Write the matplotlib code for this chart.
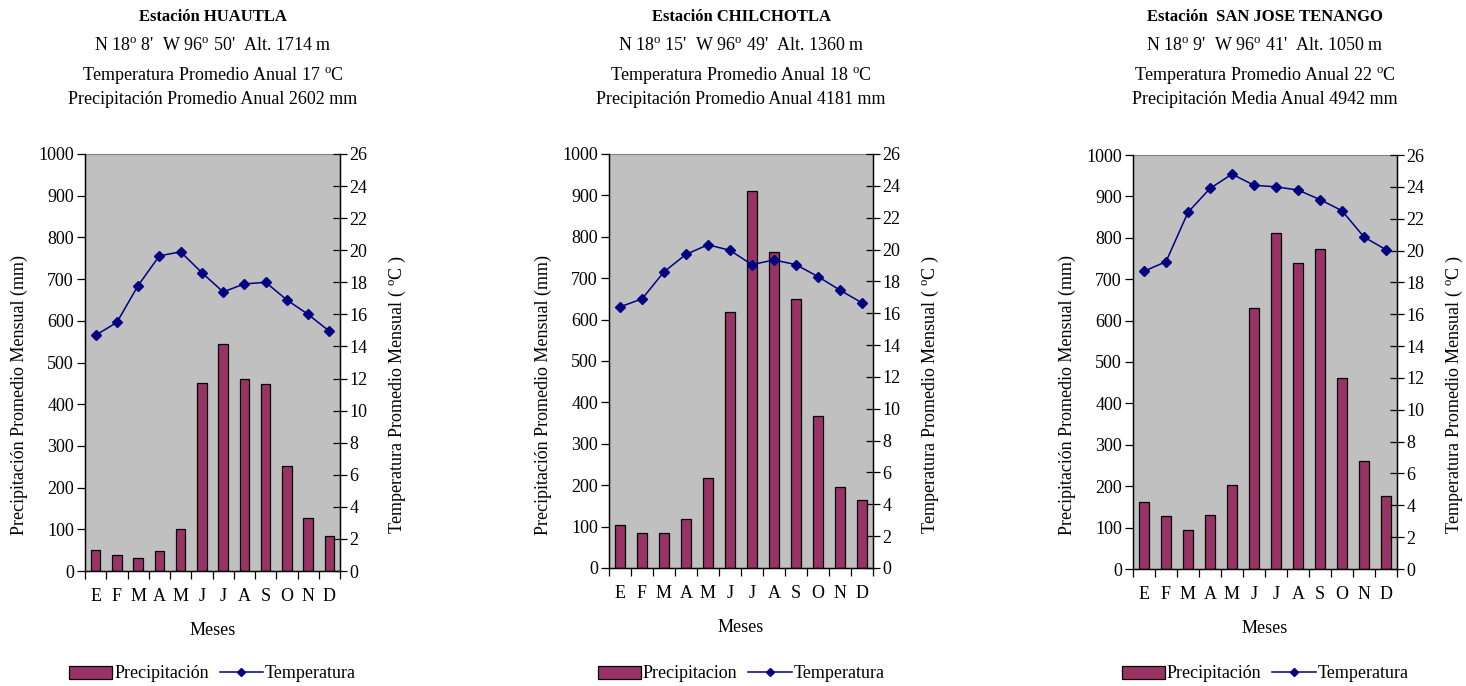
import matplotlib
matplotlib.use("Agg")
import matplotlib.pyplot as plt
import numpy as np
from matplotlib.lines import Line2D
from matplotlib.patches import Patch

plt.rcParams["font.family"] = ["Liberation Serif", "DejaVu Serif"]
plt.rcParams["mathtext.fontset"] = "custom"
plt.rcParams["mathtext.rm"] = "Liberation Serif"
plt.rcParams["mathtext.it"] = "Liberation Serif:italic"

MESES = ["E", "F", "M", "A", "M", "J", "J", "A", "S", "O", "N", "D"]

# precipitación mensual (mm) y temperatura media mensual (°C) por estación
huautla_precip = [51, 38, 31, 47, 101, 452, 545, 461, 448, 251, 128, 85]
huautla_temp = [14.7, 15.5, 17.8, 19.65, 19.9, 18.6, 17.4, 17.9, 18.0, 16.9, 16.0, 14.95]

chilchotla_precip = [105, 84, 84, 118, 218, 619, 911, 763, 649, 366, 195, 165]
chilchotla_temp = [16.4, 16.9, 18.6, 19.7, 20.3, 19.95, 19.05, 19.35, 19.05, 18.3, 17.45, 16.65]

tenango_precip = [161, 127, 93, 130, 204, 630, 811, 738, 772, 462, 261, 177]
tenango_temp = [18.7, 19.3, 22.4, 23.9, 24.8, 24.1, 24.0, 23.8, 23.2, 22.5, 20.85, 20.05]

ESTACIONES = [
    {
        "nombre": "Estación HUAUTLA",
        "coords": r"N 18$^{\mathrm{o}}$ 8'  W 96$^{\mathrm{o}}$ 50'  Alt. 1714 m",
        "temp_anual": r"Temperatura Promedio Anual 17 $^{\mathrm{o}}$C",
        "precip_anual": "Precipitación Promedio Anual 2602 mm",
        "etiqueta_precip": "Precipitación",
        "precip": huautla_precip,
        "temp": huautla_temp,
        "rect": (85, 154, 340, 571),
    },
    {
        "nombre": "Estación CHILCHOTLA",
        "coords": r"N 18$^{\mathrm{o}}$ 15'  W 96$^{\mathrm{o}}$ 49'  Alt. 1360 m",
        "temp_anual": r"Temperatura Promedio Anual 18 $^{\mathrm{o}}$C",
        "precip_anual": "Precipitación Promedio Anual 4181 mm",
        "etiqueta_precip": "Precipitacion",
        "precip": chilchotla_precip,
        "temp": chilchotla_temp,
        "rect": (609, 154, 873, 568),
    },
    {
        "nombre": "Estación  SAN JOSE TENANGO",
        "coords": r"N 18$^{\mathrm{o}}$ 9'  W 96$^{\mathrm{o}}$ 41'  Alt. 1050 m",
        "temp_anual": r"Temperatura Promedio Anual 22 $^{\mathrm{o}}$C",
        "precip_anual": "Precipitación Media Anual 4942 mm",
        "etiqueta_precip": "Precipitación",
        "precip": tenango_precip,
        "temp": tenango_temp,
        "rect": (1133, 155, 1397, 569),
    },
]

W, H = 1466, 686
BAR_COLOR = "#993366"
LINE_COLOR = "#000080"
FS = 13

fig = plt.figure(figsize=(W / 100, H / 100), dpi=100)
fig.patch.set_facecolor("white")


def fy(py):
    return 1 - py / H


for est in ESTACIONES:
    x0, y0, x1, y1 = est["rect"]
    ancho = x1 - x0
    alto = y1 - y0
    ax = fig.add_axes([x0 / W, fy(y1), ancho / W, alto / H])
    ax.set_facecolor("#C0C0C0")
    x = np.arange(12)
    ax.bar(x, est["precip"], width=0.45, color=BAR_COLOR, edgecolor="black",
           linewidth=0.9, zorder=2)
    ax.set_xlim(-0.5, 11.5)
    ax.set_ylim(0, 1000)
    ax.set_yticks(np.arange(0, 1001, 100))
    ax.tick_params(axis="y", direction="out", length=6, width=0.9,
                   labelsize=FS, pad=2)
    ax.set_xticks(np.arange(-0.5, 12, 1))
    ax.set_xticklabels([])
    ax.tick_params(axis="x", direction="out", length=6, width=0.9)
    ax.set_xticks(x, minor=True)
    ax.set_xticklabels(MESES, minor=True, fontsize=FS)
    ax.tick_params(axis="x", which="minor", length=0, pad=12.5)
    ax.set_ylabel("Precipitación Promedio Mensual (mm)", fontsize=FS)
    ax.set_xlabel("Meses", fontsize=FS, labelpad=12)
    for side in ("left", "bottom"):
        ax.spines[side].set_color("black")
        ax.spines[side].set_linewidth(1.0)
    ax.spines["top"].set_color("#808080")
    ax.spines["top"].set_linewidth(0.8)

    ax2 = ax.twinx()
    ax2.plot(x, est["temp"], color=LINE_COLOR, marker="D", markersize=5,
             linewidth=1.1, zorder=3)
    ax2.set_ylim(0, 26)
    ax2.set_yticks(np.arange(0, 27, 2))
    ax2.tick_params(axis="y", direction="inout", length=10, width=0.9,
                    labelsize=FS, pad=2)
    ax2.spines["right"].set_color("black")
    ax2.spines["right"].set_linewidth(1.0)
    ax2.spines["top"].set_visible(False)
    ax2.set_ylabel(r"Temperatura Promedio Mensual ( $^{\mathrm{o}}$C )",
                   fontsize=FS)

    # títulos de eje algo por debajo del centro del área de trazado
    yc = (y1 - 395) / alto
    ax.yaxis.set_label_coords(-57 / ancho, yc)
    ax2.yaxis.set_label_coords(1 + 47 / ancho, yc)

    cx = (x0 + x1) / 2 / W
    fig.text(cx, fy(17), est["nombre"], ha="center", va="center",
             fontsize=12, fontweight="bold")
    fig.text(cx, fy(45), est["coords"], ha="center", va="center", fontsize=FS)
    fig.text(cx, fy(76), est["temp_anual"], ha="center", va="center", fontsize=FS)
    fig.text(cx, fy(100), est["precip_anual"], ha="center", va="center", fontsize=FS)

    handles = [
        Patch(facecolor=BAR_COLOR, edgecolor="black", linewidth=0.9),
        Line2D([0], [0], color=LINE_COLOR, marker="D", markersize=4, linewidth=1.1),
    ]
    fig.legend(handles, [est["etiqueta_precip"], "Temperatura"],
               loc="center", bbox_to_anchor=(cx, fy(674)), ncol=2,
               frameon=False, fontsize=FS, handlelength=2.4,
               handletextpad=0.1, columnspacing=0.6)

fig.savefig("out.png", dpi=100)
